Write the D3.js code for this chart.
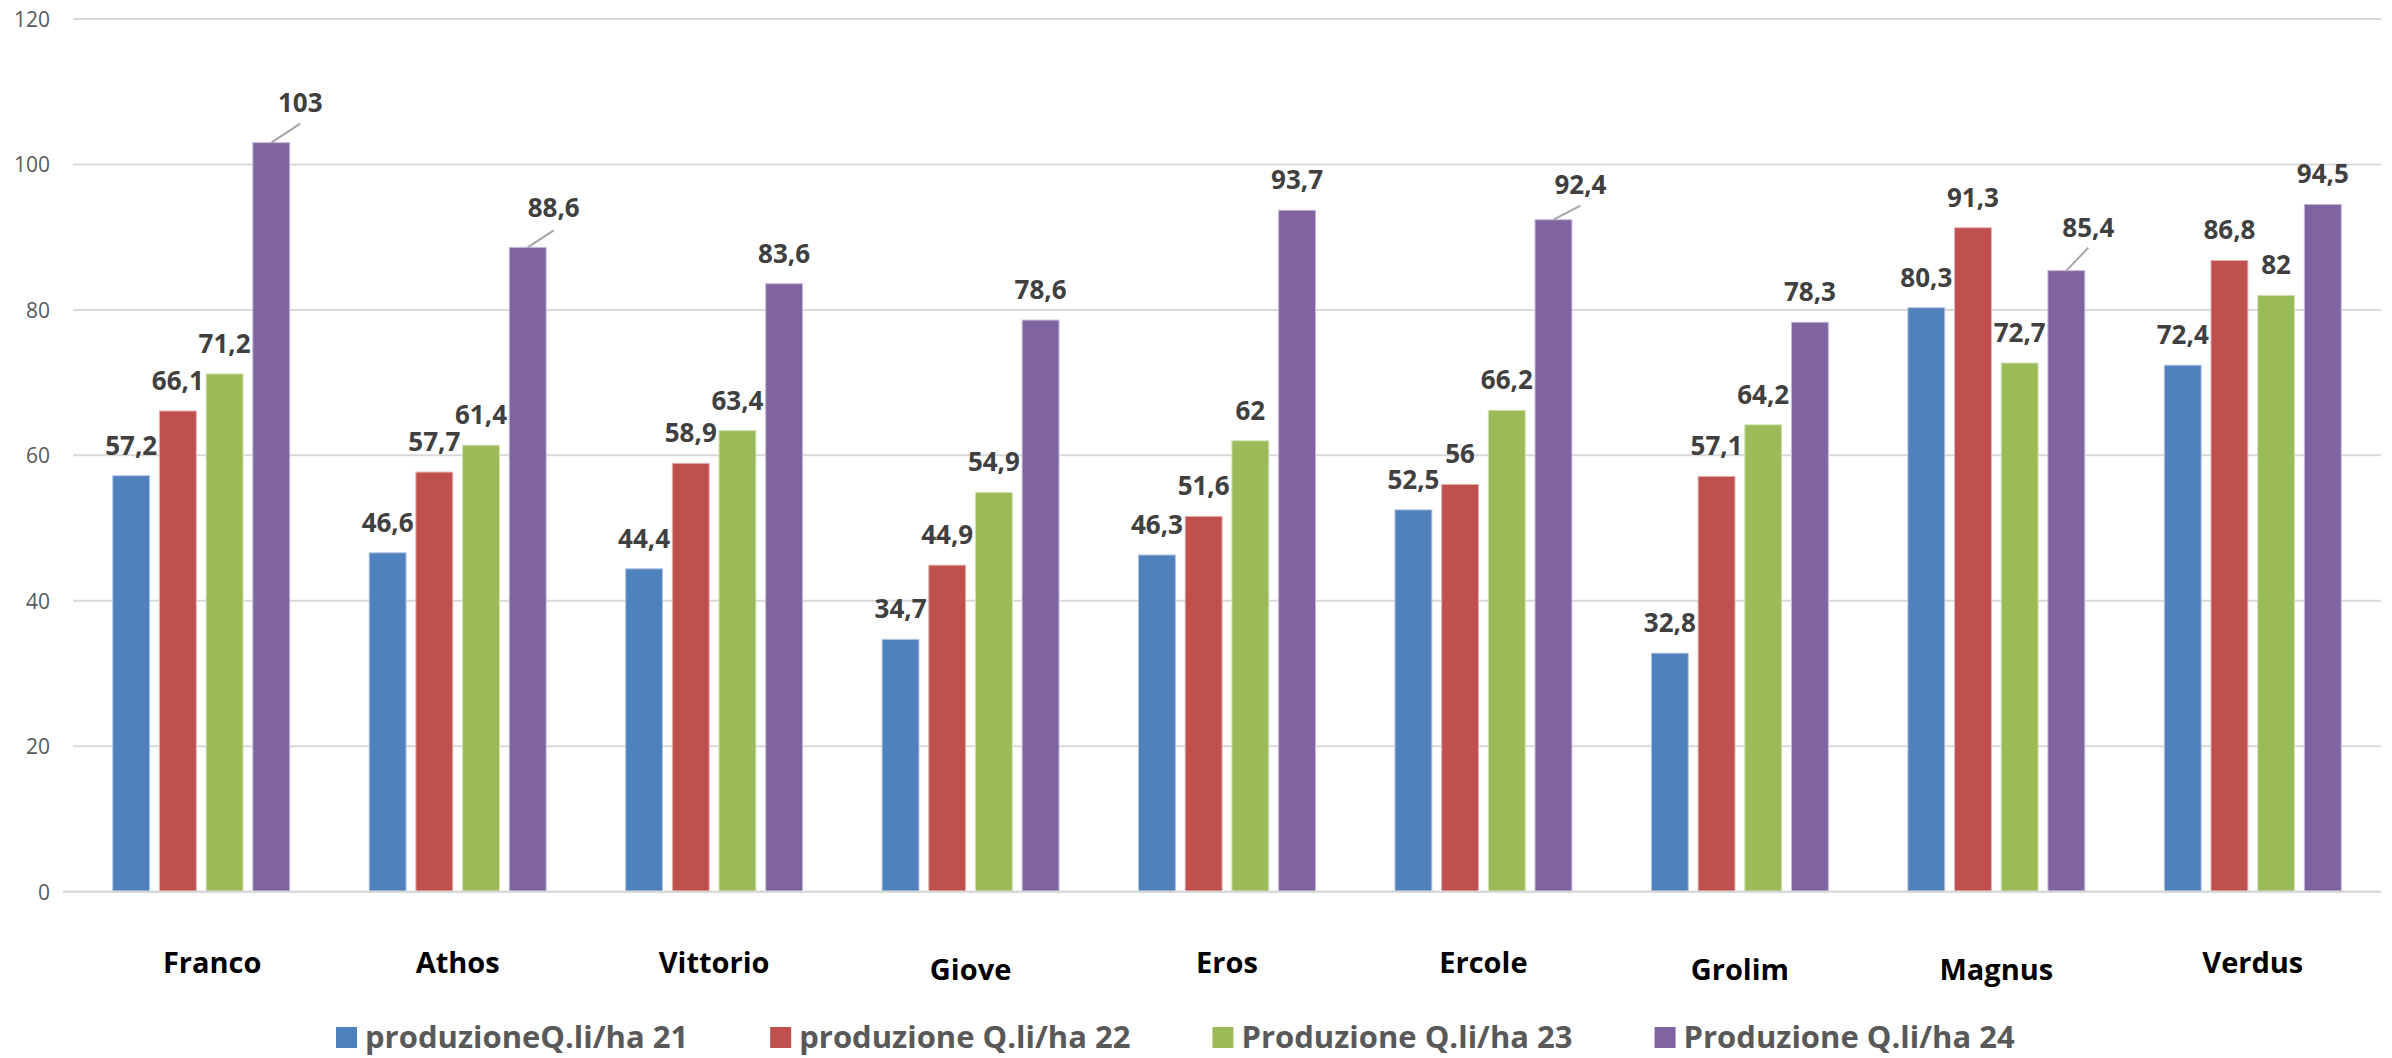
<!DOCTYPE html>
<html>
<head>
<meta charset="utf-8">
<script src="https://cdn.jsdelivr.net/npm/d3@7"></script>
<style>
  html, body { margin: 0; padding: 0; background: #ffffff; }
  svg { display: block; }
</style>
</head>
<body>
<svg id="chart" width="2392" height="1058"></svg>
<script>
// ---------------- DATA ----------------
const categories = ["Franco", "Athos", "Vittorio", "Giove", "Eros", "Ercole", "Grolim", "Magnus", "Verdus"];
const seriesNames = ["produzioneQ.li/ha 21", "produzione Q.li/ha 22", "Produzione Q.li/ha 23", "Produzione Q.li/ha 24"];
const prod21 = [57.2, 46.6, 44.4, 34.7, 46.3, 52.5, 32.8, 80.3, 72.4];
const prod22 = [66.1, 57.7, 58.9, 44.9, 51.6, 56, 57.1, 91.3, 86.8];
const prod23 = [71.2, 61.4, 63.4, 54.9, 62, 66.2, 64.2, 72.7, 82];
const prod24 = [103, 88.6, 83.6, 78.6, 93.7, 92.4, 78.3, 85.4, 94.5];
const yTicks = [0, 20, 40, 60, 80, 100, 120];

// ---------------- STYLE / LAYOUT ----------------
const colors = ["#4f81bd", "#c0504d", "#9bbb59", "#8064a2"];
const allSeries = [prod21, prod22, prod23, prod24];
const W = 2392, H = 1058;
const plotLeft = 73, plotRight = 2381, plotTop = 19, plotBottom = 891.7;
const FONT = "'Open Sans', 'Noto Sans', sans-serif";

// labels moved by the author, with leader lines: key "series-category" -> [dx, baselineAboveTop, lineEndAboveTop]
const movedLabels = {
  "3-0": [29, 31, 19],
  "3-1": [26, 30, 17],
  "3-5": [27, 26, 14],
  "3-7": [22, 34, 23]
};
// small nudges of category labels
const catDx = [11, 0, 0, 0, 0, 0, 0, 0, 0];
const catDy = [0, 0, 0, 7, 0, 0, 7, 7, 0];

const svg = d3.select("#chart");
svg.append("rect").attr("width", W).attr("height", H).attr("fill", "#ffffff");

const x = d3.scaleBand().domain(categories).range([plotLeft, plotRight]).paddingInner(0).paddingOuter(0);
const groupFrac = 0.69;
const xs = d3.scaleBand().domain(d3.range(seriesNames.length))
  .range([0, x.bandwidth() * groupFrac]).paddingInner(0.21).paddingOuter(0);
const groupOffset = x.bandwidth() * (1 - groupFrac) / 2;
const y = d3.scaleLinear().domain([0, 120]).range([plotBottom, plotTop]);

// gridlines
const grid = svg.append("g");
grid.selectAll("line").data(yTicks.filter(t => t !== 0)).join("line")
  .attr("x1", plotLeft).attr("x2", plotRight)
  .attr("y1", d => y(d)).attr("y2", d => y(d))
  .attr("stroke", "#d9d9d9").attr("stroke-width", 2);

// y axis labels
const yAxis = d3.axisLeft(y).tickValues(yTicks).tickSize(0).tickPadding(0).tickFormat(d3.format("d"));
const yg = svg.append("g").attr("transform", `translate(${50},0)`).call(yAxis);
yg.select(".domain").remove();
yg.selectAll("text")
  .attr("font-family", FONT).attr("font-size", 21).attr("fill", "#595959")
  .attr("text-anchor", "end").attr("dy", "0.35em").attr("x", 0);

// bars
const fmt = v => String(v).replace(".", ",");
const groups = svg.append("g").selectAll("g").data(categories).join("g")
  .attr("transform", d => `translate(${x(d) + groupOffset},0)`);

groups.each(function(cat, ci) {
  const g = d3.select(this);
  const vals = allSeries.map((s, si) => ({ si, v: s[ci] }));
  g.selectAll("rect").data(vals).join("rect")
    .attr("x", d => xs(d.si))
    .attr("width", xs.bandwidth())
    .attr("y", d => y(d.v))
    .attr("height", d => y(0) - y(d.v))
    .attr("fill", d => colors[d.si])
    .attr("stroke", d => d3.interpolateRgb(colors[d.si], "#ffffff")(0.55))
    .attr("stroke-width", 1);

  vals.forEach(d => {
    const cx = xs(d.si) + xs.bandwidth() / 2;
    const top = y(d.v);
    const mv = movedLabels[d.si + "-" + ci];
    if (mv) {
      g.append("line")
        .attr("x1", cx).attr("y1", top)
        .attr("x2", cx + mv[0]).attr("y2", top - mv[2])
        .attr("stroke", "#a6a6a6").attr("stroke-width", 2);
      g.append("text").attr("x", cx + mv[0]).attr("y", top - mv[1])
        .attr("text-anchor", "middle").attr("font-family", FONT)
        .attr("font-size", 26).attr("font-weight", 700).attr("fill", "#404040")
        .text(fmt(d.v));
    } else {
      g.append("text").attr("x", cx).attr("y", top - 21)
        .attr("text-anchor", "middle").attr("font-family", FONT)
        .attr("font-size", 26).attr("font-weight", 700).attr("fill", "#404040")
        .text(fmt(d.v));
    }
  });
});

// x axis line
svg.append("line").attr("x1", plotLeft - 10).attr("x2", plotRight)
  .attr("y1", plotBottom).attr("y2", plotBottom)
  .attr("stroke", "#d9d9d9").attr("stroke-width", 2.5);

// category labels
svg.append("g").selectAll("text").data(categories).join("text")
  .attr("x", (d, i) => x(d) + x.bandwidth() / 2 + catDx[i])
  .attr("y", (d, i) => 973 + catDy[i])
  .attr("text-anchor", "middle").attr("font-family", FONT)
  .attr("font-size", 29).attr("font-weight", 700).attr("fill", "#000000")
  .text(d => d);

// legend
const leg = svg.append("g");
let lx = 336;
const legY = 1027, sq = 21, textGap = 29, itemGap = 82;
seriesNames.forEach((name, i) => {
  leg.append("rect").attr("x", lx).attr("y", legY).attr("width", sq).attr("height", sq).attr("fill", colors[i]);
  const t = leg.append("text").attr("x", lx + textGap).attr("y", legY + sq)
    .attr("font-family", FONT).attr("font-size", 31).attr("font-weight", 700).attr("fill", "#595959")
    .text(name);
  lx += textGap + t.node().getComputedTextLength() + itemGap;
});
</script>
</body>
</html>
